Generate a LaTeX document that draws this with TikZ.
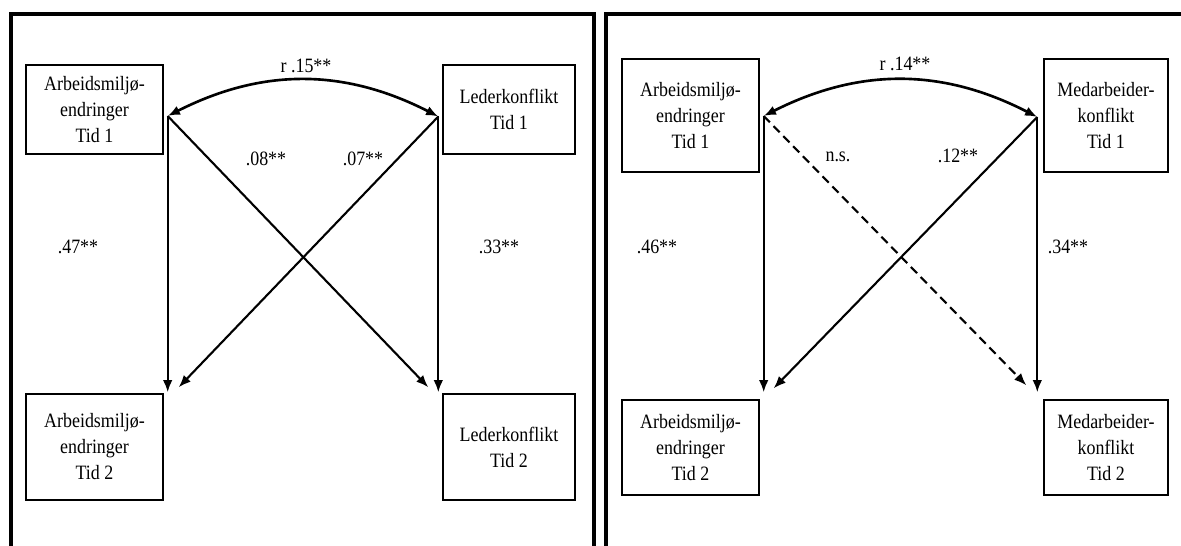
\documentclass[tikz,border=0pt]{standalone}
\usepackage{fontspec}
\setmainfont{Liberation Serif}[FakeStretch=0.88]
\usetikzlibrary{positioning,calc,arrows.meta}

\begin{document}
\begin{tikzpicture}[x=0.02cm, y=-0.02cm,
  boxnode/.style={draw=black, line width=0.8pt, align=center, inner sep=0pt, font=\fontsize{11.6}{14.8}\selectfont},
  numlabel/.style={font=\fontsize{11.6}{13}\selectfont, inner sep=0pt},
  pil/.style={line width=1.2pt, -{Latex[length=7pt,width=5.5pt]}},
  corr/.style={line width=1.5pt, {Latex[length=7pt,width=5.5pt]}-{Latex[length=7pt,width=5.5pt]}},
  panelframe/.style={line width=2.6pt, line join=miter}]

\useasboundingbox (0,0) rectangle (1181,546);

%Frames
\draw[panelframe] (11,546) -- (11,14) -- (594,14) -- (594,546);
\draw[panelframe] (606,546) -- (606,14) -- (1181,14);

%Nodes left
\node[boxnode, minimum width=2.74cm, minimum height=1.78cm] (arb1) at (94.5,109.5) {Arbeidsmiljø-\\endringer\\Tid 1};
\node[boxnode, minimum width=2.64cm, minimum height=1.78cm] (led1) at (509,109.5) {Lederkonflikt\\Tid 1};
\node[boxnode, minimum width=2.74cm, minimum height=2.12cm] (arb2) at (94.5,447) {Arbeidsmiljø-\\endringer\\Tid 2};
\node[boxnode, minimum width=2.64cm, minimum height=2.12cm] (led2) at (509,447) {Lederkonflikt\\Tid 2};

%Nodes right
\node[boxnode, minimum width=2.74cm, minimum height=2.26cm] (arbB1) at (690.5,115.5) {Arbeidsmiljø-\\endringer\\Tid 1};
\node[boxnode, minimum width=2.48cm, minimum height=2.26cm] (med1) at (1106,115.5) {Medarbeider-\\konflikt\\Tid 1};
\node[boxnode, minimum width=2.74cm, minimum height=1.9cm] (arbB2) at (690.5,447.5) {Arbeidsmiljø-\\endringer\\Tid 2};
\node[boxnode, minimum width=2.48cm, minimum height=1.9cm] (med2) at (1106,447.5) {Medarbeider-\\konflikt\\Tid 2};

%Coordinates left
\coordinate (a1) at ($(arb1.east)+(4,6.5)$);
\coordinate (l1) at ($(led1.west)+(-4,7)$);
\coordinate (a2v) at ($(arb2.north east)+(4,-1)$);
\coordinate (a2d) at ($(arb2.north east)+(15,-6)$);
\coordinate (l2v) at ($(led2.north west)+(-4,-1)$);
\coordinate (l2d) at ($(led2.north west)+(-14,-6)$);

%Coordinates right
\coordinate (b1) at ($(arbB1.east)+(4,0.5)$);
\coordinate (m1) at ($(med1.west)+(-6,1.5)$);
\coordinate (b2v) at ($(arbB2.north east)+(4,-7)$);
\coordinate (b2d) at ($(arbB2.north east)+(14,-11)$);
\coordinate (m2v) at ($(med2.north west)+(-6,-7)$);
\coordinate (m2d) at ($(med2.north west)+(-17,-14)$);

%line left
\draw[pil] (a1) -- (a2v);
\draw[pil] (a1) -- (l2d);
\draw[pil] (l1) -- (l2v);
\draw[pil] (l1) -- (a2d);
\draw[corr] (a1) to[bend left=27] (l1);

%line right
\draw[pil] (b1) -- (b2v);
\draw[pil, dash pattern=on 5pt off 3pt] (b1) -- (m2d);
\draw[pil] (m1) -- (m2v);
\draw[pil] (m1) -- (b2d);
\draw[corr] (b1) to[bend left=27] (m1);

%Labels left
\node[numlabel] (rA) at (306,66) {r .15**};
\node[numlabel] (xA1) at (266,159) {.08**};
\node[numlabel] (xA2) at (363,159) {.07**};
\node[numlabel] (sA1) at (78,247) {.47**};
\node[numlabel] (sA2) at (499,247) {.33**};

%Labels right
\node[numlabel] (rB) at (905,64) {r .14**};
\node[numlabel] (xB1) at (838,157) {n.s.};
\node[numlabel] (xB2) at (958,156) {.12**};
\node[numlabel] (sB1) at (657,247) {.46**};
\node[numlabel] (sB2) at (1068,247) {.34**};

\end{tikzpicture}
\end{document}
